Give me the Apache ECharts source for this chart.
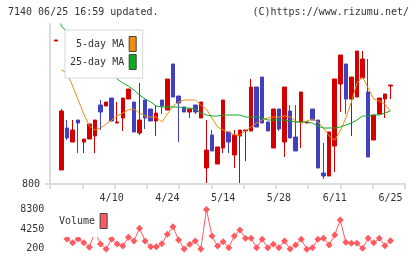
<!DOCTYPE html>
<html>
<head>
<meta charset="utf-8">
<script src="https://cdn.jsdelivr.net/npm/echarts@6/dist/echarts.min.js"></script>
<style>
  html, body { margin: 0; padding: 0; background: #fff; }
  #chart { width: 420px; height: 259px; }
</style>
</head>
<body>
<div id="chart"></div>
<script>
const FONT = '"DejaVu Sans Mono", monospace'

// first entry is the partly visible day at the left edge
const opens = [943, 814, 856, 842, 864, 842, 845, 848, 879, 878, 886, 861, 866, 885, 882, 851, 884, 875, 863, 884,
  874, 920, 888, 877, 872, 879, 866, 816, 849, 820, 836, 852, 829, 848, 853, 853, 897, 907, 862, 836,
  875, 842, 873, 847, 862, 861, 875, 864, 811, 808, 838, 900, 920, 885, 887, 906, 892, 844, 870, 885, 898]
const closes = [944, 873, 846, 854, 861, 845, 860, 864, 872, 882, 863, 862, 886, 895, 852, 864, 866, 863, 871, 878,
  905, 887, 881, 872, 875, 872, 882, 834, 833, 837, 884, 842, 849, 854, 854, 897, 857, 861, 853, 875,
  855, 897, 846, 833, 892, 862, 864, 816, 808, 852, 905, 929, 885, 907, 933, 925, 827, 869, 886, 890, 899]
const lows = [943, 814, 844, 842, 831, 831, 845, 831, 854, 878, 863, 861, 853, 885, 852, 849, 855, 863, 848, 870,
  874, 887, 842, 872, 866, 870, 866, 801, 833, 820, 831, 831, 816, 801, 823, 853, 857, 861, 853, 836,
  853, 827, 846, 833, 836, 861, 864, 816, 805, 808, 812, 872, 870, 848, 887, 906, 827, 844, 870, 866, 885]
const highs = [944, 875, 864, 864, 864, 845, 860, 864, 884, 882, 886, 882, 886, 895, 882, 901, 884, 875, 878, 884,
  905, 920, 888, 877, 875, 879, 882, 864, 854, 837, 884, 852, 854, 854, 854, 905, 897, 907, 862, 875,
  875, 897, 879, 879, 892, 862, 875, 864, 841, 852, 905, 929, 920, 907, 933, 933, 925, 869, 886, 890, 899]

const ma5 = [null, 914, 911, 898, 884, 870, 858, 854, 856, 860, 864, 868, 871, 874, 875, 871, 868, 867, 867, 862,
  870, 878, 882, 884, 884, 884, 879, 875, 866, 857, 854, 852, 849, 849, 853, 857, 861, 864, 866, 867,
  867, 868, 867, 863, 861, 863, 865, 862, 856, 848, 844, 853, 866, 882, 901, 907, 896, 885, 883, 880, 873]
const ma25 = [975, 958, 952, 948, 943, 937, 932, 927, 921, 915, 910, 905, 901, 898, 894, 889, 885, 882, 878, 877,
  877, 877, 877, 876, 876, 875, 871, 869, 868, 868, 869, 869, 869, 869, 867, 867, 867, 866, 864, 864,
  864, 864, 863, 862, 862, 862, 861, 858, 856, 856, 856, 857, 859, 861, 864, 868, 868, 869, 869, 871, 873]

const volume = [null, 5000, 2170, 1400, 2170, 1400, 450, 3630, 1130, 100, 2170, 1130, 720, 2530, 1760, 4400, 1760,
  570, 570, 1200, 3150, 4730, 1970, 100, 1070, 1760, 100, 8300, 2800, 720, 1610, 370, 2800, 4040, 2320,
  2320, 370, 2110, 370, 1070, 370, 1760, 100, 930, 2110, 60, 370, 2110, 2320, 930, 3000, 6120, 1490,
  1280, 1280, 240, 2320, 1400, 2320, 780, 1820]

const dateLabels = ['4/10', '4/24', '5/14', '5/28', '6/11', '6/25']
const labelSlots = [11, 21, 31, 41, 51, 61]

const SLOTS = 65
const STEP = 5.576
const categories = []
for (let i = 0; i < SLOTS; i++) {
  const k = labelSlots.indexOf(i)
  categories.push(k >= 0 ? dateLabels[k] : '')
}

// one empty slot before the first day
const candleData = [['-', '-', '-', '-']]
for (let i = 0; i < opens.length; i++) {
  candleData.push([opens[i], closes[i], lows[i], highs[i]])
}
const ma5Data = [null].concat(ma5)
const ma25Data = [null].concat(ma25)
const volData = [null].concat(volume)

const chart = echarts.init(document.getElementById('chart'))
const gridW = (SLOTS - 1) * STEP
const txt = {fontFamily: FONT, fontSize: 10, color: '#333'}
const AX = '#dcdcdc'

chart.setOption({
  animation: false,
  graphic: [
    {type: 'text', left: 8, top: 7, style: {text: '7140 06/25 16:59 updated.', font: '10px ' + FONT, fill: '#333'}},
    {type: 'text', right: 11, top: 7, style: {text: '(C)https://www.rizumu.net/', font: '10px ' + FONT, fill: '#333'}}
  ],
  grid: [
    {left: 50.3, top: 24, width: gridW, height: 160},
    {left: 50, top: 24, width: 355, height: 160},
    {left: 50.3, top: 209.5, width: gridW, height: 39}
  ],
  legend: [
    {
      data: [
        {name: '5-day MA', icon: 'rect', itemStyle: {color: '#f08c10', borderColor: '#444', borderWidth: 1}},
        {name: '25-day MA', icon: 'rect', itemStyle: {color: '#10a820', borderColor: '#444', borderWidth: 1}}
      ],
      orient: 'vertical', align: 'right', left: 65, top: 30,
      padding: [6, 6, 8, 5], itemGap: 2, itemWidth: 7, itemHeight: 15,
      backgroundColor: '#fff', borderColor: '#d6d6d6', borderWidth: 1,
      selectedMode: false, textStyle: txt
    },
    {
      data: [{name: 'Volume', icon: 'rect', itemStyle: {color: '#ff5a5f', borderColor: '#444', borderWidth: 1}}],
      align: 'right', left: 54, top: 208,
      padding: [5, 5, 8, 5], itemWidth: 7, itemHeight: 15,
      backgroundColor: '#fff', selectedMode: false, textStyle: txt
    }
  ],
  xAxis: [
    {
      gridIndex: 0, type: 'category', data: categories, boundaryGap: false,
      axisLine: {show: false}, axisTick: {show: false}, splitLine: {show: false},
      axisLabel: Object.assign({interval: 0, margin: 9}, txt)
    },
    {
      gridIndex: 1, type: 'value', min: 0, max: 11, interval: 1,
      axisLine: {lineStyle: {color: AX, width: 2}},
      axisTick: {length: 5, lineStyle: {color: AX, width: 2}},
      axisLabel: {show: false}, splitLine: {show: false}
    },
    {gridIndex: 2, type: 'category', data: categories, boundaryGap: false, show: false}
  ],
  yAxis: [
    {gridIndex: 0, type: 'value', min: 800, max: 960, show: false},
    {
      gridIndex: 1, type: 'value', min: 800, max: 960, interval: 160,
      axisLine: {show: true, lineStyle: {color: AX, width: 2}},
      axisTick: {show: true, length: 5, customValues: [800], lineStyle: {color: AX, width: 2}},
      axisLabel: Object.assign({customValues: [800], margin: 10}, txt),
      splitLine: {show: false}
    },
    {
      gridIndex: 2, type: 'value', min: 200, max: 8300, interval: 4050,
      axisLine: {show: false}, axisTick: {show: false}, splitLine: {show: false},
      axisLabel: Object.assign({margin: 6, formatter: v => String(v)}, txt)
    }
  ],
  series: [
    {
      type: 'candlestick', xAxisIndex: 0, yAxisIndex: 0, data: candleData, barWidth: 4,
      itemStyle: {color: '#d40000', color0: '#4040c0', borderColor: '#d40000', borderColor0: '#4040c0', borderWidth: 1}
    },
    {
      name: '5-day MA', type: 'line', xAxisIndex: 0, yAxisIndex: 0, data: ma5Data,
      showSymbol: false, lineStyle: {color: '#f08c10', width: 1}, itemStyle: {color: '#f08c10'}
    },
    {
      name: '25-day MA', type: 'line', xAxisIndex: 0, yAxisIndex: 0, data: ma25Data,
      showSymbol: false, lineStyle: {color: '#10a820', width: 1}, itemStyle: {color: '#10a820'}
    },
    {
      name: 'Volume', type: 'line', xAxisIndex: 2, yAxisIndex: 2, data: volData, clip: false,
      symbol: 'diamond', symbolSize: 7, showAllSymbol: true,
      lineStyle: {color: '#ff5a5f', width: 1}, itemStyle: {color: '#ff5a5f'}
    }
  ]
})
</script>
</body>
</html>
